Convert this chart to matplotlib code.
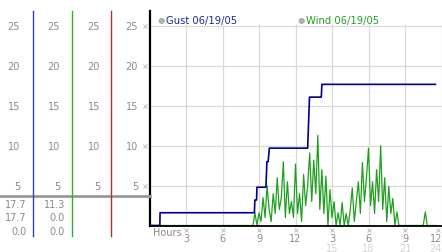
import numpy as np
import matplotlib
matplotlib.use("Agg")
import matplotlib.pyplot as plt

# data
y_ticks = [25, 20, 15, 10, 5]
x_ticks = [3, 6, 9, 12, 15, 18, 21, 24]
x_labels = ['3', '6', '9', '12', '3', '6', '9', '12']
x_labels_pm = ['15', '18', '21', '24']

gust_hours = [0, 0.85, 0.87, 8.62, 8.66, 8.8, 8.83, 9.57, 9.65, 9.75, 9.85, 10.02,
              13.0, 13.15, 14.12, 14.17, 23.5]
gust = [0, 0, 1.6, 1.6, 3.2, 3.2, 4.8, 4.8, 8.0, 8.0, 9.7, 9.7,
        9.7, 16.1, 16.1, 17.7, 17.7]

# wind, 10 minute samples from 08:30 (calm before that)
wind_start = 8.5
wind = [0, 1.6, 0, 1.6, 0.5,
        3.5, 1, 5, 2,
        0.5, 4, 1.5, 6, 2, 3.5,
        8.0,
        1, 5.5, 1.5, 3, 1,
        7.7,
        1.5, 4, 0.5, 6.4,
        2.5, 5, 9.1,
        3, 8.2, 4,
        11.3,
        2, 7, 1.5, 6.2,
        0, 4.5, 1, 3,
        0, 1.6, 0, 2.9, 0,
        1.5, 0, 2, 4.7,
        0.5, 3, 5.5, 1.5, 7.9,
        3, 6, 9.7, 2.5,
        5.5, 1.5, 7, 3, 10.0,
        2, 6, 0.5, 4.9, 1.5,
        3.4, 0, 1.7, 0,
        0, 0, 0, 0, 0, 0, 0, 0, 0, 0, 0, 0,
        1.7,
        0, 0, 0, 0, 0]

col1_vals = ['17.7', '17.7', '0.0']   # gust: max, last, min
col2_vals = ['11.3', '0.0', '0.0']    # wind: max, last, min

wind_hours = [0] + list(wind_start + np.arange(len(wind)) / 6.0)
wind_all = [0] + wind

W, H = 442, 253
plt.rcParams['font.family'] = 'DejaVu Sans'
fig = plt.figure(figsize=(W / 100, H / 100), dpi=100)

top_px, base_px = 12, 226.5
ymax = 26.9
ppu = (base_px - top_px) / ymax

def fy(px):
    return 1 - px / H

def vy(px):
    # pixel row -> data value
    return (base_px - px) / ppu

pos_main = [149.5 / W, fy(base_px), (441.5 - 149.5) / W, (base_px - top_px) / H]
ax = fig.add_axes(pos_main)
ax.set_xlim(0, 24)
ax.set_ylim(0, ymax)
ax.set_xticks([])
ax.set_yticks([])
grid_c = '#d9d9d9'
ax.hlines(y_ticks, 0, 24, color=grid_c, lw=0.9, zorder=1)
ax.vlines(x_ticks, 0, vy(25), color=grid_c, lw=0.9, zorder=1)
for s in ['top', 'right']:
    ax.spines[s].set_visible(False)
ax.spines['left'].set_linewidth(1.6)
ax.spines['bottom'].set_linewidth(1.3)
ax.spines['left'].set_zorder(5)
ax.spines['bottom'].set_zorder(5)

ax.plot(wind_hours, wind_all, color='#1ea01e', lw=0.9, zorder=3)
ax.plot(gust_hours, gust, color='#00008b', lw=1.2, zorder=4)

lab_gray = '#8a8a8a'
# x tick labels
for h, lab in zip(x_ticks, x_labels):
    ha = 'center' if h < 24 else 'right'
    xx = h if h < 24 else 24.05
    ax.text(xx, vy(239), lab, ha=ha, va='center', fontsize=7, color=lab_gray, clip_on=False)
for h, lab in zip(x_ticks[4:], x_labels_pm):
    ha = 'center' if h < 24 else 'right'
    xx = h if h < 24 else 24.05
    ax.text(xx, vy(249), lab, ha=ha, va='center', fontsize=7, color='#d4d4d4', clip_on=False)
ax.plot(x_ticks[:-1], [vy(230.5)] * 7, 'x', ms=2.2, mew=0.6, color='#b0b0b0', clip_on=False)
ax.plot([23.75], [vy(230.5)], 'x', ms=2.2, mew=0.6, color='#b0b0b0', clip_on=False)
ax.text(0.25, vy(232.5), 'Hours', ha='left', va='center', fontsize=7, color=lab_gray, clip_on=False)

# legend
fig.text(161 / W, fy(20.7), '\u25cf', color='#b0b0b0', fontsize=6, ha='center', va='center')
fig.text(165.5 / W, fy(20.7), 'Gust 06/19/05', color='#1a2a9a', fontsize=7.2, ha='left', va='center')
fig.text(301.5 / W, fy(20.7), '\u25cf', color='#b0b0b0', fontsize=6, ha='center', va='center')
fig.text(306 / W, fy(20.7), 'Wind 06/19/05', color='#22a022', fontsize=7.2, ha='left', va='center')

# left scale panel
lax = fig.add_axes([0, pos_main[1], 149.5 / W, pos_main[3]])
lax.set_xlim(0, 149.5)
lax.set_ylim(0, ymax)
lax.axis('off')
lax.plot([0, 149.5], [vy(197)] * 2, color='#999999', lw=2, clip_on=False, zorder=2)
for xx, c in zip([33, 72, 111], ['#2a48a0', '#3aa83a', '#b03030']):
    lax.plot([xx, xx], [vy(237), vy(12)], color=c, lw=1, clip_on=False, zorder=3)
for v in y_ticks:
    for xr in [20, 60, 100, 138]:
        lax.text(xr, v, str(v), ha='right', va='center', fontsize=7, color=lab_gray)
    lax.plot([145], [v], 'x', ms=2.2, mew=0.6, color='#b0b0b0')
for row, py in enumerate([205, 218, 232]):
    lax.text(27, vy(py), col1_vals[row], ha='right', va='center', fontsize=7, color=lab_gray, clip_on=False)
    lax.text(65, vy(py), col2_vals[row], ha='right', va='center', fontsize=7, color=lab_gray, clip_on=False)

fig.savefig('out.png', dpi=100)
